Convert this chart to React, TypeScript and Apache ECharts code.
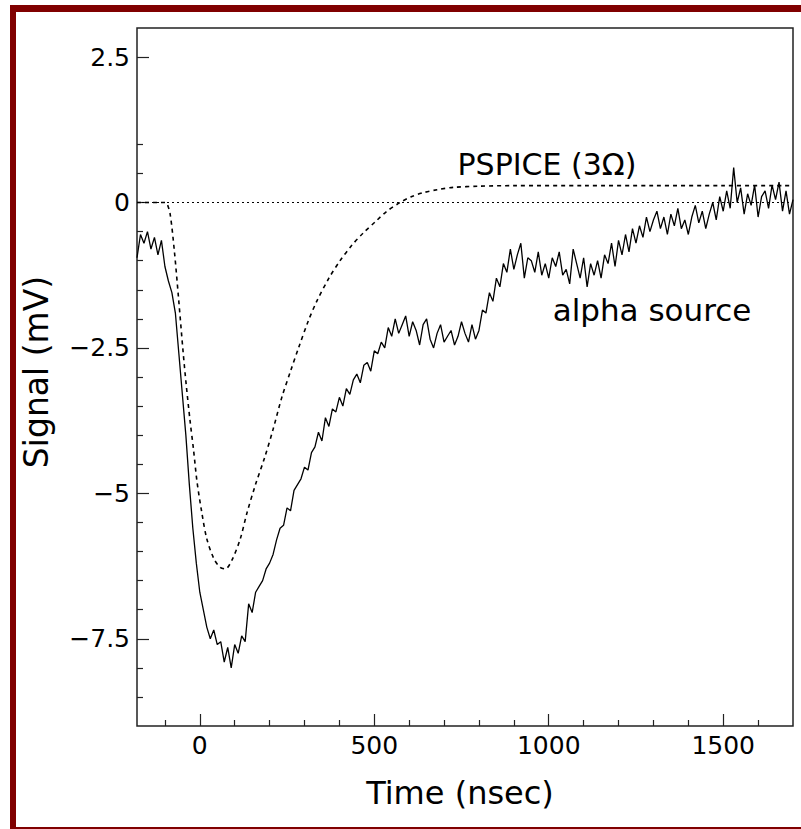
import React, { useEffect, useRef } from "react";
import * as echarts from "echarts";

// Time axis (nsec) and signal axis (mV)
const xMin = -180;
const xMax = 1700;
const yMin = -9;
const yMax = 3;
const xMajorTicks = [0, 500, 1000, 1500];
const xMinorTicks = [-100, 100, 200, 300, 400, 600, 700, 800, 900, 1100, 1200, 1300, 1400, 1600];
const yMajorTicks = [2.5, 0, -2.5, -5, -7.5];
const yMinorTicks = [1, 0.5, -0.5, -1, -1.5, -2, -3, -3.5, -4, -4.5, -5.5, -6, -6.5, -7, -8, -8.5];

// PSPICE (3 ohm) simulated pulse: [time, mV]
const pspice: [number, number][] = [
  [-180, 0], [-100, 0], [-94, -0.02], [-85, -0.2], [-73, -0.83], [-61, -1.64], [-48, -2.56],
  [-39, -3.13], [-28, -3.75], [-18, -4.25], [-8, -4.8], [6, -5.34], [20, -5.78], [40, -6.12],
  [58, -6.27], [73, -6.3], [92, -6.15], [116, -5.78], [135, -5.34], [159, -4.86], [185, -4.4],
  [210, -3.9], [235, -3.35], [260, -2.9], [283, -2.5], [310, -2.05], [335, -1.7], [370, -1.3],
  [402, -1.0], [435, -0.74], [469, -0.52], [505, -0.32], [536, -0.15], [574, 0], [606, 0.1],
  [641, 0.17], [680, 0.22], [727, 0.26], [800, 0.28], [900, 0.29], [1100, 0.29], [1300, 0.29],
  [1500, 0.29], [1700, 0.29],
];

// alpha source trace, sampled every 10 nsec from -180 nsec
const alphaStart = -180;
const alphaStep = 10;
const alpha: number[] = [
  -0.95, -0.55, -0.7, -0.5, -0.8, -0.6, -0.9, -0.65, -1.1, -1.35,
  -1.55, -1.9, -2.6, -3.3, -4.0, -4.85, -5.6, -6.2, -6.7, -7.0,
  -7.3, -7.5, -7.35, -7.6, -7.55, -7.9, -7.65, -8.0, -7.6, -7.75,
  -7.45, -7.55, -6.9, -7.05, -6.7, -6.6, -6.5, -6.3, -6.2, -6.05,
  -5.8, -5.6, -5.55, -5.25, -5.3, -4.95, -4.85, -4.75, -4.55, -4.6,
  -4.3, -4.2, -3.95, -4.1, -3.7, -3.85, -3.55, -3.6, -3.35, -3.5,
  -3.2, -3.3, -3.05, -2.95, -3.1, -2.8, -2.75, -2.9, -2.55, -2.6,
  -2.4, -2.5, -2.15, -2.3, -2.0, -2.25, -2.1, -1.95, -2.3, -2.05,
  -2.2, -2.45, -2.1, -2.0, -2.35, -2.5, -2.25, -2.1, -2.4, -2.3,
  -2.2, -2.45, -2.3, -2.05, -2.25, -2.4, -2.1, -2.35, -2.2, -1.85,
  -1.9, -1.55, -1.7, -1.3, -1.45, -1.05, -1.2, -0.8, -1.15, -0.9,
  -0.7, -1.3, -0.95, -1.0, -1.2, -0.85, -1.25, -1.05, -1.3, -0.95,
  -1.1, -0.85, -1.25, -1.15, -1.4, -0.8, -1.05, -1.3, -0.95, -1.45,
  -1.05, -1.25, -1.0, -1.3, -0.9, -1.05, -0.7, -1.1, -0.65, -0.9,
  -0.55, -0.85, -0.45, -0.7, -0.4, -0.6, -0.25, -0.5, -0.3, -0.15,
  -0.45, -0.25, -0.55, -0.2, -0.4, -0.1, -0.45, -0.3, -0.55, -0.25,
  -0.05, -0.35, -0.15, -0.45, -0.2, 0.0, -0.3, 0.1, -0.15, 0.2,
  -0.1, 0.6, 0.0, 0.25, -0.2, 0.15, -0.05, 0.3, -0.25, 0.1,
  0.2, -0.1, 0.3, 0.05, 0.35, -0.15, 0.2, -0.2, 0.05,
];

const zeroLine: [number, number][] = [[xMin, 0], [xMax, 0]];

const FONT = "DejaVu Sans";
const fmt = (v: number) => (v < 0 ? "\u2212" + String(-v) : String(v));
const AX = "#222";

export default function App() {
  const ref = useRef<HTMLDivElement>(null);
  useEffect(() => {
    if (!ref.current) return;
    const chart = echarts.init(ref.current, undefined, { renderer: "svg" });
    const alphaData = alpha.map((v, i) => [alphaStart + i * alphaStep, v]);
    const noLine = { show: false, onZero: false };
    chart.setOption({
      animation: false,
      backgroundColor: "#ffffff",
      grid: { left: 137, right: 8, top: 28, bottom: 103, show: true, borderColor: AX, borderWidth: 1.5, backgroundColor: "transparent" },
      xAxis: [
        {
          type: "value", min: xMin, max: xMax, position: "bottom",
          axisLine: noLine, splitLine: { show: false },
          axisTick: { show: true, inside: true, length: 12, customValues: xMajorTicks, lineStyle: { color: AX, width: 1.2 } },
          axisLabel: { show: true, customValues: xMajorTicks, margin: 7, color: "#000", fontFamily: FONT, fontSize: 25, formatter: (v: number) => fmt(v) },
        },
        {
          type: "value", min: xMin, max: xMax, position: "bottom",
          axisLine: noLine, splitLine: { show: false },
          axisTick: { show: true, inside: true, length: 6, customValues: xMinorTicks, lineStyle: { color: AX, width: 1.2 } },
          axisLabel: { show: false },
        },
      ],
      yAxis: [
        {
          type: "value", min: yMin, max: yMax, position: "left",
          axisLine: noLine, splitLine: { show: false },
          axisTick: { show: true, inside: true, length: 12, customValues: yMajorTicks, lineStyle: { color: AX, width: 1.2 } },
          axisLabel: { show: true, customValues: yMajorTicks, margin: 7, color: "#000", fontFamily: FONT, fontSize: 25, formatter: (v: number) => fmt(v) },
        },
        {
          type: "value", min: yMin, max: yMax, position: "left",
          axisLine: noLine, splitLine: { show: false },
          axisTick: { show: true, inside: true, length: 6, customValues: yMinorTicks, lineStyle: { color: AX, width: 1.2 } },
          axisLabel: { show: false },
        },
      ],
      graphic: [
        { type: "rect", shape: { x: 10, y: 5, width: 791, height: 7 }, style: { fill: "#800000" } },
        { type: "rect", shape: { x: 10, y: 5, width: 6, height: 824 }, style: { fill: "#800000" } },
        { type: "rect", shape: { x: 10, y: 827, width: 791, height: 2 }, style: { fill: "#800000" } },
        { type: "text", x: 460, y: 793, style: { text: "Time (nsec)", fontFamily: FONT, fontSize: 32, fill: "#000", align: "center", verticalAlign: "middle" } },
        { type: "text", x: 36, y: 372, rotation: Math.PI / 2, style: { text: "Signal (mV)", fontFamily: FONT, fontSize: 33, fill: "#000", align: "center", verticalAlign: "middle" } },
        { type: "text", x: 547, y: 164, style: { text: "PSPICE (3\u03A9)", fontFamily: FONT, fontSize: 30, fill: "#000", align: "center", verticalAlign: "middle" } },
        { type: "text", x: 652, y: 310, style: { text: "alpha source", fontFamily: FONT, fontSize: 31, fill: "#000", align: "center", verticalAlign: "middle" } },
      ],
      series: [
        {
          name: "zero", type: "line", data: zeroLine, symbol: "none", silent: true,
          lineStyle: { color: "#000", width: 1, type: [2, 3] },
        },
        {
          name: "PSPICE (3\u03A9)", type: "line", data: pspice, symbol: "none", smooth: 0.3,
          lineStyle: { color: "#000", width: 1.6, type: [4, 4] },
        },
        {
          name: "alpha source", type: "line", data: alphaData, symbol: "none",
          lineStyle: { color: "#000", width: 1.3 },
        },
      ],
    });
    return () => chart.dispose();
  }, []);
  return <div ref={ref} style={{ position: "fixed", left: 0, top: 0, width: 801, height: 829 }} />;
}
